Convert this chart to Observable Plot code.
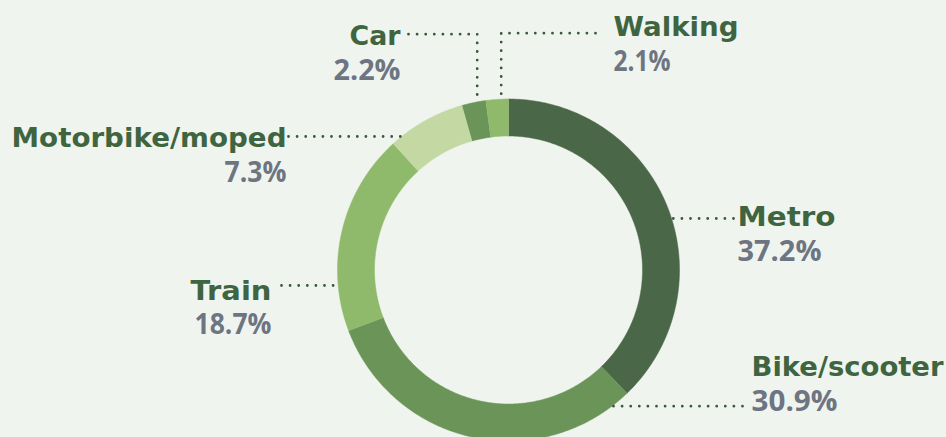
<!DOCTYPE html>
<html>
<head>
<meta charset="utf-8">
<script src="https://cdn.jsdelivr.net/npm/d3@7"></script>
<script src="https://cdn.jsdelivr.net/npm/@observablehq/plot@0.6"></script>
<style>
  html, body { margin: 0; padding: 0; background: #f0f4ef; }
  #chart svg { display: block; }
</style>
</head>
<body>
<div id="chart"></div>
<script>
// ---- data ----
const modes = ["Metro", "Bike/scooter", "Train", "Motorbike/moped", "Car", "Walking"];
const shares = [37.2, 30.9, 18.7, 7.3, 2.2, 2.1];
const sliceColors = ["#4a6747", "#6b9459", "#8fba6b", "#c4d8a4", "#6b9459", "#8fba6b"];

// ---- layout (label placement and fitted text widths, pixels) ----
const labelLayout = [
  {mode: "Metro",           anchor: "start", tx: 737, ty: 225,   py: 260,   side: "right", ly: 218,   lx: 733, nw: 98,  pw: 84},
  {mode: "Bike/scooter",    anchor: "start", tx: 751, ty: 375,   py: 410,   side: "right", ly: 405.7, lx: 742, nw: 192, pw: 86},
  {mode: "Train",           anchor: "end",   tx: 271, ty: 299,   py: 333.5, side: "left",  ly: 285,   lx: 281, nw: 81,  pw: 77},
  {mode: "Motorbike/moped", anchor: "end",   tx: 286, ty: 146.5, py: 181.5, side: "left",  ly: 136,   lx: 288, nw: 275, pw: 62},
  {mode: "Car",             anchor: "end",   tx: 400, ty: 44,    py: 79,    side: "top",   ly: 33.7,  lx: 408, vx: 476.7, nw: 51, pw: 67},
  {mode: "Walking",         anchor: "start", tx: 613, ty: 35,    py: 70,    side: "top",   ly: 32.7,  lx: 595, vx: 500.7, nw: 125, pw: 57}
];
const cx = 508, cy = 269.5, R = 171, r = 134;

// ---- donut geometry from data ----
const arcs = d3.pie().sort(null).value(i => shares[i])(d3.range(modes.length));
const ringPts = [];
arcs.forEach(a => {
  const m = modes[a.data];
  const n = Math.max(8, Math.ceil((a.endAngle - a.startAngle) / 0.01));
  for (let k = 0; k <= n; k++) {
    const t = a.startAngle + (a.endAngle - a.startAngle) * k / n;
    ringPts.push({mode: m, x: cx + R * Math.sin(t), y: cy - R * Math.cos(t)});
  }
  for (let k = n; k >= 0; k--) {
    const t = a.startAngle + (a.endAngle - a.startAngle) * k / n;
    ringPts.push({mode: m, x: cx + r * Math.sin(t), y: cy - r * Math.cos(t)});
  }
});

// ---- leader lines ----
const leaderPts = [];
labelLayout.forEach(d => {
  if (d.side === "right" || d.side === "left") {
    const dx = Math.sqrt(R * R - (d.ly - cy) ** 2);
    const xr = d.side === "right" ? cx + dx : cx - dx;
    leaderPts.push({mode: d.mode, x: d.lx, y: d.ly}, {mode: d.mode, x: xr, y: d.ly});
  } else {
    const yr = cy - Math.sqrt(R * R - (d.vx - cx) ** 2);
    leaderPts.push({mode: d.mode, x: d.lx, y: d.ly}, {mode: d.mode, x: d.vx, y: d.ly}, {mode: d.mode, x: d.vx, y: yr});
  }
});

const shareOf = m => shares[modes.indexOf(m)];
const pctText = m => shareOf(m).toFixed(1) + "%";
const nameFont = "'DejaVu Sans', sans-serif";
const pctFont = "'Open Sans', sans-serif";

const chart = Plot.plot({
  width: 946,
  height: 437,
  margin: 0,
  x: {type: "identity", axis: null},
  y: {type: "identity", axis: null},
  color: {domain: modes, range: sliceColors},
  style: {background: "#f0f4ef", fontFamily: nameFont, overflow: "hidden"},
  marks: [
    Plot.line(ringPts, {x: "x", y: "y", z: "mode", fill: "mode", stroke: "mode", strokeWidth: 0.5, curve: "linear"}),
    Plot.line(leaderPts, {x: "x", y: "y", z: "mode", stroke: "#375a3a", strokeWidth: 2.8,
      strokeDasharray: "0 8.6", strokeLinecap: "round", curve: "linear"}),
    Plot.text(labelLayout.filter(d => d.anchor === "start"), {x: "tx", y: "ty", text: "mode", textAnchor: "start",
      lineAnchor: "bottom", fontSize: 27, fontWeight: "bold", fill: "#3f6540", fontFamily: nameFont}),
    Plot.text(labelLayout.filter(d => d.anchor === "end"), {x: "tx", y: "ty", text: "mode", textAnchor: "end",
      lineAnchor: "bottom", fontSize: 27, fontWeight: "bold", fill: "#3f6540", fontFamily: nameFont}),
    Plot.text(labelLayout.filter(d => d.anchor === "start"), {x: "tx", y: "py", text: d => pctText(d.mode),
      textAnchor: "start", lineAnchor: "bottom", fontSize: 28, fontWeight: "bold", fill: "#6e7582", fontFamily: pctFont}),
    Plot.text(labelLayout.filter(d => d.anchor === "end"), {x: "tx", y: "py", text: d => pctText(d.mode),
      textAnchor: "end", lineAnchor: "bottom", fontSize: 28, fontWeight: "bold", fill: "#6e7582", fontFamily: pctFont})
  ]
});

// fit label widths to the reference layout
d3.select(chart).selectAll("text").each(function() {
  const s = this.textContent;
  const byName = labelLayout.find(d => d.mode === s);
  const byPct = labelLayout.find(d => pctText(d.mode) === s);
  const w = byName ? byName.nw : byPct ? byPct.pw : null;
  if (w) {
    this.setAttribute("textLength", w);
    this.setAttribute("lengthAdjust", "spacingAndGlyphs");
  }
});
document.getElementById("chart").append(chart);
</script>
</body>
</html>
